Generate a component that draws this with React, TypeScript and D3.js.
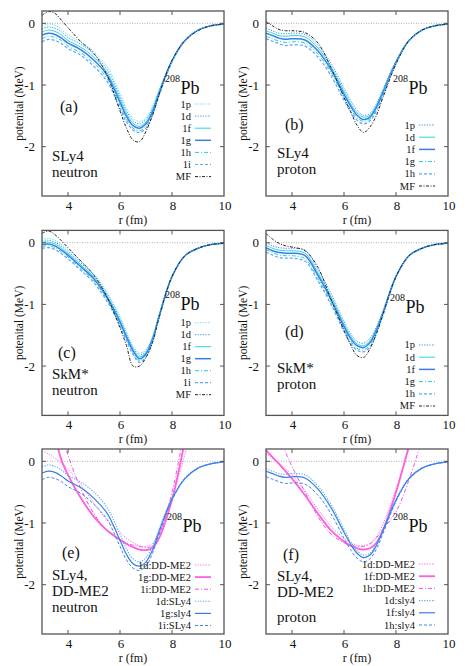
import React from 'react';
import * as d3 from 'd3';

// ---------- data ----------
const R = [3, 3.25, 3.5, 3.75, 4, 4.5, 5, 5.5, 6, 6.25, 6.5, 6.75, 7, 7.25, 7.5, 8, 8.5, 9, 9.5, 10];

// (a) SLy4 neutron
const A_1p = [-0.04, -0.01, -0.03, -0.1, -0.19, -0.3, -0.46, -0.7, -1.13, -1.38, -1.54, -1.59, -1.53, -1.35, -1.08, -0.6, -0.27, -0.11, -0.04, -0.01];
const A_1d = [-0.09, -0.06, -0.08, -0.14, -0.23, -0.34, -0.5, -0.75, -1.18, -1.42, -1.58, -1.63, -1.56, -1.38, -1.1, -0.6, -0.27, -0.11, -0.04, -0.01];
const A_1f = [-0.14, -0.11, -0.13, -0.19, -0.28, -0.39, -0.55, -0.8, -1.23, -1.47, -1.62, -1.67, -1.6, -1.41, -1.12, -0.61, -0.27, -0.11, -0.04, -0.01];
const A_1g = [-0.19, -0.16, -0.18, -0.24, -0.32, -0.43, -0.6, -0.84, -1.28, -1.51, -1.66, -1.7, -1.63, -1.44, -1.14, -0.61, -0.28, -0.11, -0.04, -0.01];
const A_1h = [-0.25, -0.21, -0.23, -0.28, -0.37, -0.48, -0.65, -0.89, -1.33, -1.56, -1.7, -1.74, -1.67, -1.47, -1.16, -0.62, -0.28, -0.11, -0.04, -0.01];
const A_1i = [-0.3, -0.26, -0.28, -0.33, -0.41, -0.52, -0.7, -0.94, -1.38, -1.6, -1.73, -1.77, -1.7, -1.49, -1.18, -0.63, -0.28, -0.11, -0.04, -0.01];
const A_MF = [0.13, 0.19, 0.16, 0.05, -0.07, -0.3, -0.49, -0.84, -1.42, -1.7, -1.89, -1.92, -1.75, -1.49, -1.16, -0.6, -0.28, -0.12, -0.04, -0.01];

// (b) SLy4 proton
const B_1p = [-0.08, -0.12, -0.16, -0.17, -0.16, -0.18, -0.36, -0.65, -1.05, -1.25, -1.41, -1.49, -1.46, -1.3, -1.07, -0.61, -0.27, -0.11, -0.04, -0.01];
const B_1d = [-0.12, -0.16, -0.2, -0.21, -0.2, -0.22, -0.4, -0.7, -1.1, -1.3, -1.45, -1.52, -1.49, -1.33, -1.1, -0.62, -0.27, -0.11, -0.04, -0.01];
const B_1f = [-0.16, -0.2, -0.24, -0.26, -0.25, -0.27, -0.45, -0.75, -1.15, -1.34, -1.49, -1.56, -1.52, -1.36, -1.12, -0.63, -0.28, -0.11, -0.04, -0.01];
const B_1g = [-0.21, -0.25, -0.29, -0.31, -0.3, -0.32, -0.5, -0.8, -1.2, -1.39, -1.53, -1.59, -1.55, -1.39, -1.14, -0.64, -0.28, -0.11, -0.04, -0.01];
const B_1h = [-0.25, -0.29, -0.33, -0.36, -0.35, -0.37, -0.55, -0.85, -1.25, -1.43, -1.57, -1.63, -1.58, -1.42, -1.17, -0.65, -0.28, -0.11, -0.04, -0.01];
const B_MF = [0.03, -0.04, -0.1, -0.12, -0.12, -0.15, -0.32, -0.72, -1.2, -1.43, -1.65, -1.77, -1.68, -1.49, -1.2, -0.66, -0.28, -0.11, -0.04, -0.01];

// (c) SkM* neutron
const C_1p = [0.07, 0.07, 0.04, -0.03, -0.11, -0.3, -0.5, -0.8, -1.2, -1.45, -1.67, -1.79, -1.73, -1.52, -1.17, -0.54, -0.21, -0.09, -0.03, -0.01];
const C_1d = [0.04, 0.04, 0.01, -0.06, -0.14, -0.33, -0.53, -0.83, -1.23, -1.48, -1.7, -1.82, -1.75, -1.54, -1.18, -0.54, -0.21, -0.09, -0.03, -0.01];
const C_1f = [0.01, 0.01, -0.02, -0.09, -0.17, -0.36, -0.56, -0.86, -1.26, -1.51, -1.73, -1.85, -1.78, -1.56, -1.19, -0.55, -0.21, -0.09, -0.03, -0.01];
const C_1g = [-0.03, -0.02, -0.05, -0.12, -0.2, -0.39, -0.59, -0.89, -1.29, -1.53, -1.75, -1.88, -1.8, -1.57, -1.2, -0.55, -0.21, -0.09, -0.03, -0.01];
const C_1h = [-0.06, -0.05, -0.08, -0.15, -0.23, -0.42, -0.62, -0.92, -1.32, -1.56, -1.78, -1.91, -1.82, -1.59, -1.21, -0.55, -0.21, -0.09, -0.03, -0.01];
const C_1i = [-0.09, -0.08, -0.11, -0.18, -0.26, -0.45, -0.65, -0.95, -1.35, -1.59, -1.81, -1.94, -1.85, -1.61, -1.22, -0.56, -0.21, -0.09, -0.03, -0.01];
const C_MF = [0.15, 0.19, 0.13, 0.03, -0.08, -0.3, -0.53, -0.88, -1.38, -1.67, -2.0, -2.0, -1.86, -1.62, -1.22, -0.55, -0.21, -0.09, -0.03, -0.01];

// (d) SkM* proton
const D_1p = [0.0, -0.05, -0.08, -0.09, -0.09, -0.12, -0.44, -0.82, -1.28, -1.47, -1.6, -1.63, -1.55, -1.36, -1.1, -0.54, -0.21, -0.09, -0.03, -0.01];
const D_1d = [-0.04, -0.09, -0.12, -0.13, -0.13, -0.17, -0.49, -0.87, -1.32, -1.51, -1.64, -1.67, -1.59, -1.39, -1.12, -0.54, -0.21, -0.09, -0.03, -0.01];
const D_1f = [-0.08, -0.13, -0.16, -0.17, -0.17, -0.21, -0.53, -0.92, -1.36, -1.55, -1.67, -1.7, -1.62, -1.42, -1.14, -0.55, -0.21, -0.09, -0.03, -0.01];
const D_1g = [-0.11, -0.16, -0.2, -0.21, -0.21, -0.26, -0.58, -0.96, -1.4, -1.59, -1.71, -1.74, -1.66, -1.44, -1.16, -0.55, -0.21, -0.09, -0.03, -0.01];
const D_1h = [-0.15, -0.2, -0.24, -0.25, -0.25, -0.3, -0.62, -1.0, -1.44, -1.63, -1.74, -1.77, -1.69, -1.47, -1.18, -0.56, -0.21, -0.09, -0.03, -0.01];
const D_MF = [0.15, 0.06, -0.01, -0.05, -0.07, -0.13, -0.4, -0.92, -1.42, -1.65, -1.83, -1.86, -1.72, -1.47, -1.16, -0.55, -0.21, -0.09, -0.03, -0.01];

// (e) DD-ME2 neutron
const E_1d_DD = [0.17, 0.12, 0.05, -0.03, -0.13, -0.38, -0.68, -0.95, -1.15, -1.25, -1.32, -1.37, -1.38, -1.33, -1.18, -0.6, 0.12, 1.0, null, null];
const E_1g_DD = [null, null, 0.4, 0.02, -0.22, -0.6, -0.9, -1.12, -1.27, -1.34, -1.39, -1.43, -1.44, -1.4, -1.25, -0.62, 0.35, null, null, null];
const E_1i_DD = [null, null, null, 0.45, 0.1, -0.45, -0.85, -1.12, -1.28, -1.33, -1.36, -1.38, -1.4, -1.37, -1.2, -0.5, 0.55, null, null, null];

// (f) DD-ME2 proton
const F_1d_DD = [0.13, 0.05, -0.03, -0.12, -0.22, -0.48, -0.78, -1.05, -1.25, -1.32, -1.36, -1.37, -1.33, -1.22, -1.02, -0.45, 0.2, 0.9, null, null];
const F_1f_DD = [0.18, 0.07, -0.04, -0.16, -0.28, -0.55, -0.85, -1.12, -1.3, -1.37, -1.41, -1.43, -1.41, -1.32, -1.12, -0.5, 0.25, 1.0, null, null];
const F_1h_DD = [null, null, 0.4, 0.15, -0.08, -0.5, -0.9, -1.18, -1.32, -1.36, -1.38, -1.38, -1.34, -1.24, -1.1, -0.82, -0.3, 0.35, null, null];

const X_TICKS = [4, 6, 8, 10];
const Y_TICKS = [0, -1, -2];

// ---------- styles ----------
type Sty = { color: string; dash?: string; width: number };
const S: Record<string, Sty> = {
  cyanDot: { color: '#4fe3f2', dash: '1.2,1.4', width: 1 },
  blueDot: { color: '#3f8cf0', dash: '1.2,1.4', width: 1 },
  cyanSolid: { color: '#25d6e8', width: 1 },
  blueSolid: { color: '#3a7ee8', width: 1.5 },
  cyanDashDot: { color: '#18cde0', dash: '4,2,1,2', width: 1 },
  ltBlueDash: { color: '#5ba6f6', dash: '3,2', width: 1.2 },
  mf: { color: '#222', dash: '3,1.5,1,1.5', width: 1 },
  pinkDot: { color: '#ff6ae8', dash: '1.2,1.4', width: 1 },
  pinkSolid: { color: '#ff5fe0', width: 1.8 },
  pinkDashDot: { color: '#f055e0', dash: '4,2,1,2', width: 1 },
  sDot: { color: '#55a8f8', dash: '1.2,1.4', width: 1.1 },
  sSolid: { color: '#3a7ee8', width: 1.2 },
  sDash: { color: '#3d86ee', dash: '3,2', width: 1 },
};

const PW = 182, PH = 185;
const FONT = '"Liberation Serif", "Times New Roman", serif';

type Series = { label: string; values: (number | null)[]; style: Sty };
type Panel = {
  left: number; top: number; tag: string; tagPos: [number, number];
  notes: string[]; noteX: number; noteY: number[];
  pbPos: [number, number];
  legendTop: number; legendRow: number;
  series: Series[];
};

const panels: Panel[] = [
  {
    left: 42, top: 11, tag: '(a)', tagPos: [18, 101], notes: ['SLy4', 'neutron'], noteX: 10, noteY: [150, 166],
    pbPos: [123, 83], legendTop: 93, legendRow: 12.1,
    series: [
      { label: '1p', values: A_1p, style: S.cyanDot },
      { label: '1d', values: A_1d, style: S.blueDot },
      { label: '1f', values: A_1f, style: S.cyanSolid },
      { label: '1g', values: A_1g, style: S.blueSolid },
      { label: '1h', values: A_1h, style: S.cyanDashDot },
      { label: '1i', values: A_1i, style: S.ltBlueDash },
      { label: 'MF', values: A_MF, style: S.mf },
    ],
  },
  {
    left: 266, top: 11, tag: '(b)', tagPos: [19, 119], notes: ['SLy4', 'proton'], noteX: 11, noteY: [147, 163],
    pbPos: [127, 83], legendTop: 114, legendRow: 12.2,
    series: [
      { label: '1p', values: B_1p, style: S.blueDot },
      { label: '1d', values: B_1d, style: S.cyanSolid },
      { label: '1f', values: B_1f, style: S.blueSolid },
      { label: '1g', values: B_1g, style: S.cyanDashDot },
      { label: '1h', values: B_1h, style: S.ltBlueDash },
      { label: 'MF', values: B_MF, style: S.mf },
    ],
  },
  {
    left: 42, top: 230.4, tag: '(c)', tagPos: [16, 128], notes: ['SkM*', 'neutron'], noteX: 10, noteY: [149, 165],
    pbPos: [123, 80], legendTop: 92.3, legendRow: 12.0,
    series: [
      { label: '1p', values: C_1p, style: S.cyanDot },
      { label: '1d', values: C_1d, style: S.blueDot },
      { label: '1f', values: C_1f, style: S.cyanSolid },
      { label: '1g', values: C_1g, style: S.blueSolid },
      { label: '1h', values: C_1h, style: S.cyanDashDot },
      { label: '1i', values: C_1i, style: S.ltBlueDash },
      { label: 'MF', values: C_MF, style: S.mf },
    ],
  },
  {
    left: 266, top: 230.4, tag: '(d)', tagPos: [19, 107], notes: ['SkM*', 'proton'], noteX: 11, noteY: [143, 159],
    pbPos: [124, 83], legendTop: 114.6, legendRow: 12.2,
    series: [
      { label: '1p', values: D_1p, style: S.blueDot },
      { label: '1d', values: D_1d, style: S.cyanSolid },
      { label: '1f', values: D_1f, style: S.blueSolid },
      { label: '1g', values: D_1g, style: S.cyanDashDot },
      { label: '1h', values: D_1h, style: S.ltBlueDash },
      { label: 'MF', values: D_MF, style: S.mf },
    ],
  },
  {
    left: 42, top: 449, tag: '(e)', tagPos: [20, 109], notes: ['SLy4,', 'DD-ME2', 'neutron'], noteX: 10, noteY: [131, 147, 163],
    pbPos: [125, 83], legendTop: 116, legendRow: 12.1,
    series: [
      { label: '1d:DD-ME2', values: E_1d_DD, style: S.pinkDot },
      { label: '1g:DD-ME2', values: E_1g_DD, style: S.pinkSolid },
      { label: '1i:DD-ME2', values: E_1i_DD, style: S.pinkDashDot },
      { label: '1d:SLy4', values: A_1d, style: S.sDot },
      { label: '1g:sly4', values: A_1g, style: S.sSolid },
      { label: '1i:SLy4', values: A_1i, style: S.sDash },
    ],
  },
  {
    left: 266, top: 449, tag: '(f)', tagPos: [17, 111], notes: ['SLy4,', 'DD-ME2', 'proton'], noteX: 11, noteY: [132, 148, 173],
    pbPos: [127, 83], legendTop: 115, legendRow: 12.2,
    series: [
      { label: '1d:DD-ME2', values: F_1d_DD, style: S.pinkDot },
      { label: '1f:DD-ME2', values: F_1f_DD, style: S.pinkSolid },
      { label: '1h:DD-ME2', values: F_1h_DD, style: S.pinkDashDot },
      { label: '1d:sly4', values: B_1d, style: S.sDot },
      { label: '1f:sly4', values: B_1f, style: S.sSolid },
      { label: '1h:sly4', values: B_1h, style: S.sDash },
    ],
  },
];

const x = d3.scaleLinear().domain([3, 10]).range([0, PW]);
const y = d3.scaleLinear().domain([-2.8, 0.2]).range([PH, 0]);

const lineGen = d3
  .line<[number, number | null]>()
  .defined((d) => d[1] != null)
  .x((d) => x(d[0]))
  .y((d) => y(d[1] as number))
  .curve(d3.curveCatmullRom.alpha(0.5));

function PanelView({ p, idx }: { p: Panel; idx: number }) {
  const clipId = `clip${idx}`;
  const tick = 4;
  return (
    <g transform={`translate(${p.left},${p.top})`}>
      <defs>
        <clipPath id={clipId}>
          <rect x={0} y={0} width={PW} height={PH} />
        </clipPath>
      </defs>
      <line x1={0} x2={PW} y1={y(0)} y2={y(0)} stroke="#999" strokeWidth={0.8} strokeDasharray="1,1.5" />
      <g clipPath={`url(#${clipId})`}>
        {p.series.map((s, i) => (
          <path
            key={i}
            d={lineGen(R.map((r, k) => [r, s.values[k]] as [number, number | null])) || ''}
            fill="none"
            stroke={s.style.color}
            strokeWidth={s.style.width}
            strokeDasharray={s.style.dash}
          />
        ))}
      </g>
      <rect x={0} y={0} width={PW} height={PH} fill="none" stroke="#555" strokeWidth={1.3} />
      {X_TICKS.filter((t) => t < 10).map((t) => (
        <g key={'xt' + t}>
          <line x1={x(t)} x2={x(t)} y1={PH} y2={PH - tick} stroke="#555" strokeWidth={1} />
          <line x1={x(t)} x2={x(t)} y1={0} y2={tick} stroke="#555" strokeWidth={1} />
        </g>
      ))}
      {Y_TICKS.map((t) => (
        <g key={'yt' + t}>
          <line x1={0} x2={tick} y1={y(t)} y2={y(t)} stroke="#555" strokeWidth={1} />
          <line x1={PW} x2={PW - tick} y1={y(t)} y2={y(t)} stroke="#555" strokeWidth={1} />
        </g>
      ))}
      {X_TICKS.map((t) => (
        <text key={'xl' + t} x={x(t) + 1} y={PH + 13.5} fontSize={13} fontFamily={FONT} textAnchor="middle" fill="#111">
          {t}
        </text>
      ))}
      {Y_TICKS.map((t) => (
        <text key={'yl' + t} x={-7} y={y(t) + 4.5} fontSize={13} fontFamily={FONT} textAnchor="end" fill="#111">
          {t === 0 ? '0' : '-' + Math.abs(t)}
        </text>
      ))}
      <text x={PW / 2} y={PH + 28} fontSize={12} fontFamily={FONT} textAnchor="middle" fill="#111">
        r (fm)
      </text>
      <text
        transform={`translate(${-19},${PH / 2}) rotate(-90)`}
        fontSize={11.5}
        fontFamily={FONT}
        textAnchor="middle"
        fill="#111"
      >
        potenital (MeV)
      </text>
      <text x={p.tagPos[0]} y={p.tagPos[1]} fontSize={16} fontFamily={FONT} fill="#111">
        {p.tag}
      </text>
      {p.notes.map((n, i) => (
        <text key={'n' + i} x={p.noteX} y={p.noteY[i]} fontSize={15} fontFamily={FONT} fill="#111">
          {n}
        </text>
      ))}
      <text x={p.pbPos[0]} y={p.pbPos[1] - 12} fontSize={10} fontFamily={FONT} fill="#111">
        208
      </text>
      <text x={p.pbPos[0] + 15.5} y={p.pbPos[1]} fontSize={18} fontFamily={FONT} fill="#111">
        Pb
      </text>
      {p.series.map((s, i) => {
        const yy = p.legendTop + i * p.legendRow;
        return (
          <g key={'lg' + i}>
            <text x={149} y={yy + 3.5} fontSize={10.5} fontFamily={FONT} textAnchor="end" fill="#111">
              {s.label}
            </text>
            <line x1={153} x2={169} y1={yy} y2={yy} stroke={s.style.color} strokeWidth={s.style.width} strokeDasharray={s.style.dash} />
          </g>
        );
      })}
    </g>
  );
}

export default function App() {
  return (
    <svg
      width={469}
      height={666}
      viewBox="0 0 469 666"
      style={{ position: 'absolute', left: 0, top: 0, background: '#fff' }}
    >
      <rect x={0} y={0} width={469} height={666} fill="#fff" />
      {panels.map((p, i) => (
        <PanelView key={i} p={p} idx={i} />
      ))}
    </svg>
  );
}
